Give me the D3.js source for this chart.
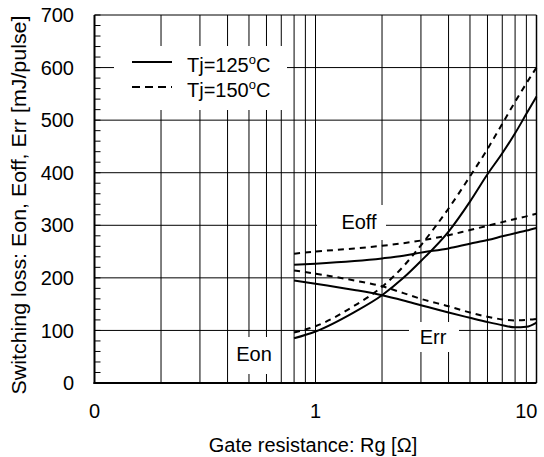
<!DOCTYPE html>
<html>
<head>
<meta charset="utf-8">
<script src="https://cdn.jsdelivr.net/npm/d3@7"></script>
<style>
  html, body { margin: 0; padding: 0; background: #fff; }
  svg { display: block; font-family: "Liberation Sans", Arial, sans-serif; }
</style>
</head>
<body>
<svg id="chart" width="544" height="457"></svg>
<script>
// Gate resistance sample points [Ω]
const rg = [0.8, 1, 1.5, 2, 2.5, 3, 4, 5, 6, 7, 8, 9, 10];
// Switching losses [mJ/pulse]
const eon125  = [85, 98, 135, 167, 200, 232, 288, 345, 397, 437, 475, 512, 545];
const eon150  = [96, 108, 147, 183, 222, 262, 332, 393, 445, 493, 535, 570, 600];
const eoff125 = [225, 227, 232, 237, 242, 248, 256, 265, 272, 279, 285, 290, 295];
const eoff150 = [246, 250, 256, 261, 266, 271, 281, 291, 299, 306, 312, 317, 322];
const err125  = [195, 189, 177, 167, 157, 148, 134, 124, 116, 110, 106, 107, 115];
const err150  = [214, 208, 195, 184, 171, 160, 146, 134, 126, 121, 119, 120, 122];

const yTicks = [0, 100, 200, 300, 400, 500, 600, 700];
const xTickValues = [0.1, 1, 10];
const xTickLabels = ["0", "1", "10"];
const legendLabels = ["Tj=125", "Tj=150"];

const svg = d3.select("#chart");
const L = 94.5, R = 536.5, T = 15, B = 383;
const fs = 20;

const x = d3.scaleLog().domain([0.1, 10]).range([L, R]);
const y = d3.scaleLinear().domain([0, 700]).range([B, T]);

// grid: log minor/major verticals and 100-step horizontals
const gridX = [];
[0.1, 1].forEach(d => { for (let k = 2; k <= 9; k++) gridX.push(d * k); });
gridX.push(1);

const grid = svg.append("g").attr("stroke", "#000").attr("stroke-width", 1);
grid.selectAll("line.v").data(gridX).join("line")
  .attr("class", "v")
  .attr("x1", d => x(d)).attr("x2", d => x(d))
  .attr("y1", T).attr("y2", B);
grid.selectAll("line.h").data(yTicks.slice(1, -1)).join("line")
  .attr("class", "h")
  .attr("x1", L).attr("x2", R)
  .attr("y1", d => y(d)).attr("y2", d => y(d));

// minor y ticks every 20, pointing inward
const minorY = d3.range(0, 701, 20);
svg.append("g").selectAll("line").data(minorY).join("line")
  .attr("x1", L).attr("x2", L + 6)
  .attr("y1", d => y(d)).attr("y2", d => y(d))
  .attr("stroke", "#000").attr("stroke-width", 1);

// white panels behind legend and curve labels
const panels = [
  { x0: 114, x1: 287, y0: 46, y1: 110 },
  { x0: 317, x1: 386, y0: 205, y1: 240 },
  { x0: 233, x1: 279, y0: 337, y1: 374 },
  { x0: 409, x1: 459, y0: 322, y1: 352 }
];
svg.append("g").selectAll("rect").data(panels).join("rect")
  .attr("x", d => d.x0).attr("y", d => d.y0)
  .attr("width", d => d.x1 - d.x0).attr("height", d => d.y1 - d.y0)
  .attr("fill", "#fff");

// frame
svg.append("line").attr("x1", L).attr("x2", R).attr("y1", T).attr("y2", T)
  .attr("stroke", "#000").attr("stroke-width", 1);
svg.append("line").attr("x1", R).attr("x2", R).attr("y1", T).attr("y2", B)
  .attr("stroke", "#000").attr("stroke-width", 1.5);
svg.append("line").attr("x1", L).attr("x2", L).attr("y1", T).attr("y2", B + 1)
  .attr("stroke", "#000").attr("stroke-width", 2);
svg.append("line").attr("x1", L - 1).attr("x2", R).attr("y1", B).attr("y2", B)
  .attr("stroke", "#000").attr("stroke-width", 2);

// curves
const line = d3.line()
  .x((d, i) => x(rg[i]))
  .y(d => y(d))
  .curve(d3.curveMonotoneX);

const series = [
  { v: eoff150, dash: "6,5" }, { v: eoff125, dash: null },
  { v: eon150, dash: "6,5" },  { v: eon125, dash: null },
  { v: err150, dash: "6,5" },  { v: err125, dash: null }
];
svg.append("g").selectAll("path").data(series).join("path")
  .attr("d", d => line(d.v))
  .attr("fill", "none")
  .attr("stroke", "#000")
  .attr("stroke-width", 2)
  .attr("stroke-dasharray", d => d.dash);

// tick labels
svg.append("g").selectAll("text").data(yTicks).join("text")
  .attr("x", 74).attr("y", d => y(d))
  .attr("dy", "0.36em")
  .attr("text-anchor", "end")
  .attr("font-size", fs)
  .text(d => d);

svg.append("g").selectAll("text").data(xTickValues).join("text")
  .attr("x", (d, i) => i === 2 ? R + 1 : x(d))
  .attr("y", 418)
  .attr("text-anchor", (d, i) => i === 2 ? "end" : "middle")
  .attr("font-size", fs)
  .text((d, i) => xTickLabels[i]);

// axis titles
svg.append("text")
  .attr("x", 313).attr("y", 452)
  .attr("text-anchor", "middle")
  .attr("font-size", fs)
  .text("Gate resistance: Rg [Ω]");

svg.append("text")
  .attr("transform", "translate(26,205) rotate(-90) scale(1.07,1)")
  .attr("text-anchor", "middle")
  .attr("font-size", fs)
  .text("Switching loss: Eon, Eoff, Err [mJ/pulse]");

// curve labels
const curveLabels = [
  { t: "Eoff", cx: 359, cy: 222 },
  { t: "Eon", cx: 254, cy: 354 },
  { t: "Err", cx: 433, cy: 337 }
];
svg.append("g").selectAll("text").data(curveLabels).join("text")
  .attr("x", d => d.cx).attr("y", d => d.cy)
  .attr("dy", "0.36em")
  .attr("text-anchor", "middle")
  .attr("font-size", fs)
  .text(d => d.t);

// legend
const legend = svg.append("g");
[null, "8,5"].forEach((dash, i) => {
  const ly = 62 + i * 25;
  legend.append("line")
    .attr("x1", 132).attr("x2", 172).attr("y1", ly).attr("y2", ly)
    .attr("stroke", "#000").attr("stroke-width", 2)
    .attr("stroke-dasharray", dash);
  const t = legend.append("text")
    .attr("x", 187).attr("y", ly + 10)
    .attr("font-size", fs);
  t.append("tspan").text(legendLabels[i]);
  t.append("tspan").attr("dy", -8).attr("font-size", 13).text("o");
  t.append("tspan").attr("dy", 8).text("C");
});
</script>
</body>
</html>
